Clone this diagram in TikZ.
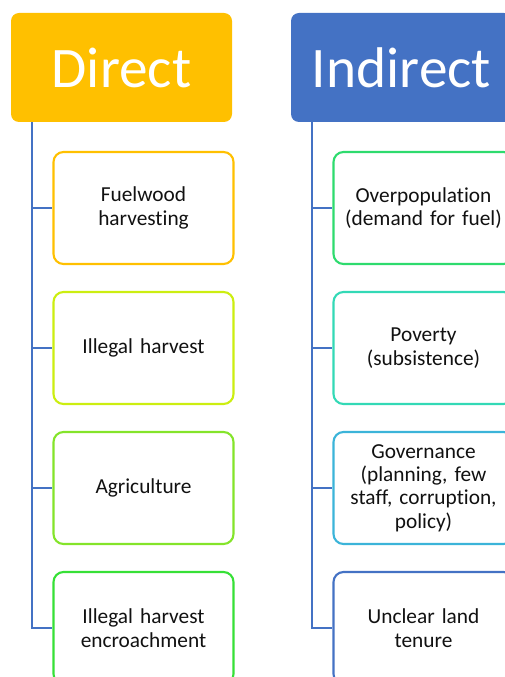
\documentclass[tikz,border=0pt]{standalone}
\usepackage{fontspec}
\setmainfont{Carlito}[Ligatures=NoCommon]
\definecolor{dirfill}{HTML}{FFC000}
\definecolor{indfill}{HTML}{4472C4}
\definecolor{cA}{HTML}{FFC000}
\definecolor{cB}{HTML}{CCEE10}
\definecolor{cC}{HTML}{84E42A}
\definecolor{cD}{HTML}{36E036}
\definecolor{cE}{HTML}{2EDB6E}
\definecolor{cF}{HTML}{33D9B6}
\definecolor{cG}{HTML}{3BB4D9}
\definecolor{cH}{HTML}{4472C4}
\definecolor{txt}{HTML}{111111}
\begin{document}
\begin{tikzpicture}[x=0.75pt, y=-0.75pt,
	head/.style={fill=#1, draw=none, rounded corners=6pt, minimum width=165.75pt, minimum height=81.75pt,
		text=white, font=\fontsize{43}{46}\selectfont, inner sep=0pt},
	item/.style={draw=#1, line width=1.6pt, fill=white, rounded corners=7.5pt, minimum width=135pt,
		minimum height=84pt, text width=128pt, align=center, text=txt, font=\fontsize{16}{17.5}\selectfont, inner sep=0pt},
	link/.style={draw=indfill, line width=1.6pt}]
	\useasboundingbox (0, 0) rectangle (504, 677);

	\node[head=dirfill] (dhead) at (121.5, 67.5) {Direct};
	\node[item=cA] (d1) at (143.5, 208) {Fuelwood\\harvesting};
	\node[item=cB] (d2) at (143.5, 348) {Illegal harvest};
	\node[item=cC] (d3) at (143.5, 488) {Agriculture};
	\node[item=cD] (d4) at (143.5, 628) {Illegal harvest\\encroachment};
	\coordinate (dtrunk) at ([xshift=15.75pt]dhead.south west);
	\draw[link] (dtrunk) |- (d4.west);
	\draw[link] (dtrunk) |- (d1.west);
	\draw[link] (dtrunk) |- (d2.west);
	\draw[link] (dtrunk) |- (d3.west);

	\node[head=indfill] (ihead) at (401.5, 67.5) {Indirect};
	\node[item=cE] (i1) at (423.5, 208) {Overpopulation\\(demand for fuel)};
	\node[item=cF] (i2) at (423.5, 348) {Poverty\\(subsistence)};
	\node[item=cG] (i3) at (423.5, 488) {Governance\\(planning, few\\staff, corruption,\\policy)};
	\node[item=cH] (i4) at (423.5, 628) {Unclear land\\tenure};
	\coordinate (itrunk) at ([xshift=15.75pt]ihead.south west);
	\draw[link] (itrunk) |- (i4.west);
	\draw[link] (itrunk) |- (i1.west);
	\draw[link] (itrunk) |- (i2.west);
	\draw[link] (itrunk) |- (i3.west);
\end{tikzpicture}
\end{document}
